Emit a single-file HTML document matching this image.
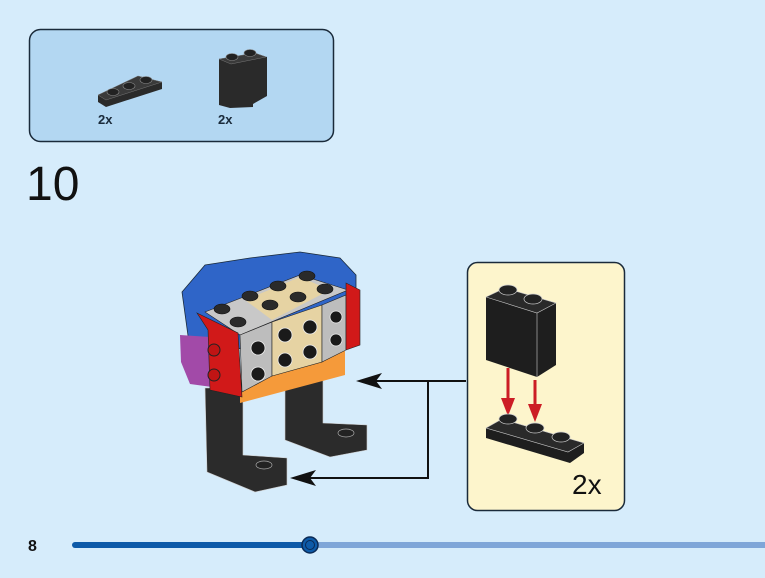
<!DOCTYPE html>
<html><head><meta charset="utf-8"><style>
html,body{margin:0;padding:0;background:#d6ecfb;}
svg{display:block;}
text{font-family:"Liberation Sans",sans-serif;}
</style></head><body>
<svg width="765" height="578" viewBox="0 0 765 578" xmlns="http://www.w3.org/2000/svg">
<rect width="765" height="578" fill="#d6ecfb"/>
<!-- parts box -->
<rect x="29.5" y="29.5" width="304" height="112" rx="11" fill="#b3d7f2" stroke="#1a2a3a" stroke-width="1.5"/>
<polygon points="98,95 138,76 162,82 162,89 106,107 98,102" fill="#2a2a2a"/>
<polygon points="98,95 138,76 162,82 106,100" fill="#3a3a3a" stroke="#777" stroke-width="0.5"/>
<ellipse cx="113" cy="92" rx="6" ry="3.5" fill="#222" stroke="#888" stroke-width="0.6"/>
<ellipse cx="129" cy="86" rx="6" ry="3.5" fill="#222" stroke="#888" stroke-width="0.6"/>
<ellipse cx="146" cy="80" rx="6" ry="3.5" fill="#222" stroke="#888" stroke-width="0.6"/>
<text x="98" y="124" font-size="13" font-weight="bold" fill="#1a2a3a">2x</text>
<polygon points="219,59 255,53 267,57 267,96 253,104 253,107 230,108 219,105" fill="#2a2a2a"/>
<polygon points="219,59 255,53 266,57 231,64" fill="#3a3a3a" stroke="#777" stroke-width="0.5"/>
<ellipse cx="232" cy="57" rx="6" ry="3.5" fill="#222" stroke="#888" stroke-width="0.6"/>
<ellipse cx="250" cy="53" rx="6" ry="3.5" fill="#222" stroke="#888" stroke-width="0.6"/>
<text x="218" y="124" font-size="13" font-weight="bold" fill="#1a2a3a">2x</text>
<text x="26" y="200" font-size="48" fill="#111">10</text>

<!-- legs -->
<polygon points="285,378 323,372 323,423 367,425 367,450 330,457 285,440" fill="#2b2b2b" stroke="#ccc" stroke-width="0.6"/>
<ellipse cx="346" cy="433" rx="8" ry="4" fill="#222" stroke="#aaa" stroke-width="0.7"/>
<polygon points="205,388 243,388 243,455 287,458 287,485 255,492 207,472" fill="#2b2b2b" stroke="#ccc" stroke-width="0.6"/>
<ellipse cx="264" cy="465" rx="8" ry="4" fill="#222" stroke="#aaa" stroke-width="0.7"/>
<!-- blue body -->
<polygon points="182,292 205,265 250,258 300,252 340,258 356,275 356,345 190,350" fill="#2f65c8" stroke="#1a2a3a" stroke-width="0.8"/>
<polygon points="180,335 210,337 212,387 190,384 181,362" fill="#a24aa8"/>
<polygon points="205,312 300,275 348,290 240,335" fill="#c8c8c8" stroke="#222" stroke-width="0.6"/>
<polygon points="245,300 300,277 330,290 272,320" fill="#e6d3a3"/>
<polygon points="240,380 345,350 345,375 240,403" fill="#f59a3a"/>
<polygon points="197,313 238,333 242,397 210,390 208,330" fill="#d11919" stroke="#222" stroke-width="0.6"/>
<circle cx="214" cy="350" r="6" fill="#c01414" stroke="#222"/>
<circle cx="214" cy="375" r="6" fill="#c01414" stroke="#222"/>
<polygon points="240,335 272,322 272,376 242,392" fill="#bdbdbd" stroke="#222" stroke-width="0.6"/>
<polygon points="272,322 322,305 322,362 272,376" fill="#e6d3a3" stroke="#222" stroke-width="0.6"/>
<polygon points="322,305 346,295 346,350 322,362" fill="#bdbdbd" stroke="#222" stroke-width="0.6"/>
<polygon points="346,283 360,290 360,345 346,350" fill="#d11919" stroke="#222" stroke-width="0.6"/>
<g fill="#1a1a1a" stroke="#eee" stroke-width="0.8">
<circle cx="258" cy="348" r="7"/><circle cx="258" cy="374" r="7"/>
<circle cx="285" cy="335" r="7"/><circle cx="310" cy="327" r="7"/>
<circle cx="285" cy="360" r="7"/><circle cx="310" cy="352" r="7"/>
<circle cx="336" cy="317" r="6"/><circle cx="336" cy="340" r="6"/>
</g>
<g fill="#2a2a2a" stroke="#111" stroke-width="0.6">
<ellipse cx="222" cy="309" rx="8" ry="5"/><ellipse cx="238" cy="322" rx="8" ry="5"/>
<ellipse cx="250" cy="296" rx="8" ry="5"/><ellipse cx="270" cy="305" rx="8" ry="5"/>
<ellipse cx="278" cy="286" rx="8" ry="5"/><ellipse cx="298" cy="297" rx="8" ry="5"/>
<ellipse cx="307" cy="276" rx="8" ry="5"/><ellipse cx="325" cy="289" rx="8" ry="5"/>
</g>
<g stroke="#111" stroke-width="2" fill="none">
<line x1="466" y1="381" x2="372" y2="381"/>
<polyline points="428,381 428,478 305,478"/>
</g>
<polygon points="356,381 382,373 376,381 382,389" fill="#111"/>
<polygon points="290,478 316,470 310,478 316,486" fill="#111"/>

<rect x="467.5" y="262.5" width="157" height="248" rx="10" fill="#fdf5cc" stroke="#1a2a3a" stroke-width="1.5"/>
<polygon points="486,297 505,288 556,303 556,365 537,377 486,360" fill="#1e1e1e"/>
<polygon points="486,297 505,288 556,303 537,313" fill="#2a2a2a" stroke="#ccc" stroke-width="0.6"/>
<line x1="537" y1="313" x2="537" y2="377" stroke="#ccc" stroke-width="0.6"/>
<ellipse cx="508" cy="290" rx="9" ry="5" fill="#222" stroke="#ccc" stroke-width="0.7"/>
<ellipse cx="533" cy="299" rx="9" ry="5" fill="#222" stroke="#ccc" stroke-width="0.7"/>
<g stroke="#cc1d25" stroke-width="3"><line x1="508" y1="368" x2="508" y2="402"/><line x1="535" y1="380" x2="535" y2="408"/></g>
<polygon points="501,398 515,398 508,416" fill="#cc1d25"/>
<polygon points="528,404 542,404 535,422" fill="#cc1d25"/>
<polygon points="486,428 502,419 584,443 584,453 570,463 486,438" fill="#1e1e1e"/>
<polygon points="486,428 502,419 584,443 568,452" fill="#2a2a2a" stroke="#ccc" stroke-width="0.6"/>
<ellipse cx="508" cy="419" rx="9" ry="5" fill="#222" stroke="#ccc" stroke-width="0.7"/>
<ellipse cx="535" cy="428" rx="9" ry="5" fill="#222" stroke="#ccc" stroke-width="0.7"/>
<ellipse cx="561" cy="437" rx="9" ry="5" fill="#222" stroke="#ccc" stroke-width="0.7"/>
<text x="572" y="494" font-size="28" fill="#111">2x</text>

<text x="28" y="551" font-size="16" font-weight="bold" fill="#111">8</text>
<line x1="310" y1="545" x2="765" y2="545" stroke="#7fa6d8" stroke-width="6"/>
<line x1="75" y1="545" x2="310" y2="545" stroke="#0d5aa8" stroke-width="6" stroke-linecap="round"/>
<circle cx="310" cy="545" r="8" fill="#0d5aa8" stroke="#0a2a55" stroke-width="1.5"/>
<circle cx="310" cy="545" r="4.5" fill="none" stroke="#0a2a55" stroke-width="1"/>
</svg>
</body></html>
